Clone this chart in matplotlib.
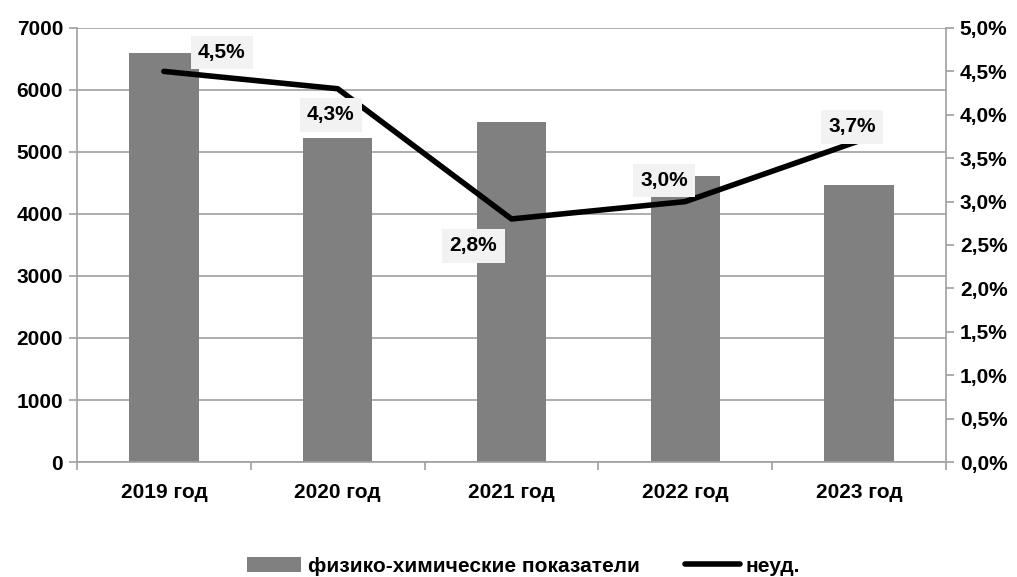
import numpy as np
import matplotlib.pyplot as plt
from matplotlib.ticker import FuncFormatter

plt.rcParams['font.family'] = ['Liberation Sans', 'DejaVu Sans']
plt.rcParams['font.weight'] = 'bold'

# data
years = ['2019 год', '2020 год', '2021 год', '2022 год', '2023 год']
counts = [6600, 5230, 5480, 4610, 4470]
fail_pct = [4.5, 4.3, 2.8, 3.0, 3.7]
pct_labels = ['4,5%', '4,3%', '2,8%', '3,0%', '3,7%']
label_offsets = [(58, 19), (-7, -26), (-38, -27), (-21, 21), (-7, 14)]

grid_col = '#a0a0a0'
fs = 15

fig = plt.figure(figsize=(10.17, 5.77), dpi=100)
ax = fig.add_axes([0.0757, 0.1993, 0.8545, 0.7522])
ax2 = ax.twinx()

x = np.arange(len(years))
bars = ax.bar(x, counts, width=0.4, color='#808080', zorder=2,
              label='физико-химические показатели')
ax.set_xlim(-0.5, len(years) - 0.5)
ax.set_ylim(0, 7000)
ax.set_yticks(np.arange(0, 7001, 1000))
ax.yaxis.grid(True, color=grid_col, linewidth=1.2, zorder=0)
ax.set_axisbelow(True)
ax.set_xticks(x)
ax.set_xticklabels(years)
ax.set_xticks(np.arange(-0.5, len(years)), minor=True)
ax.tick_params(axis='x', which='major', length=0, pad=15, labelsize=fs)
ax.tick_params(axis='x', which='minor', length=6, color=grid_col, width=1.2)
ax.tick_params(axis='y', length=6, color=grid_col, width=1.2, labelsize=fs, pad=4)

for s in ['top', 'right']:
    ax.spines[s].set_visible(False)
for s in ['left', 'bottom']:
    ax.spines[s].set_color(grid_col)
    ax.spines[s].set_linewidth(1.2)

line, = ax2.plot(x, fail_pct, color='black', linewidth=4, zorder=3,
                 solid_capstyle='round', solid_joinstyle='round', label='неуд.')
ax2.set_ylim(0, 5)
ax2.set_yticks(np.arange(0, 5.01, 0.5))
ax2.yaxis.set_major_formatter(FuncFormatter(lambda v, p: f'{v:.1f}%'.replace('.', ',')))
ax2.tick_params(axis='y', length=6, color=grid_col, width=1.2, labelsize=fs, pad=4)
for s in ['top', 'left', 'bottom']:
    ax2.spines[s].set_visible(False)
ax2.spines['right'].set_color(grid_col)
ax2.spines['right'].set_linewidth(1.2)

for xi, yi, lab, off in zip(x, fail_pct, pct_labels, label_offsets):
    ax2.annotate(lab, (xi, yi), xytext=off, textcoords='offset pixels',
                 ha='center', va='center', fontsize=fs, fontweight='bold',
                 bbox=dict(boxstyle='square,pad=0.35', fc='#f2f2f2', ec='none'),
                 zorder=4)

fig.legend([bars, line], ['физико-химические показатели', 'неуд.'],
           loc='lower center', bbox_to_anchor=(0.515, -0.03), ncol=2,
           frameon=False, fontsize=fs, handlelength=2.6, handletextpad=0.3,
           columnspacing=2.2)

fig.savefig('out.png', dpi=100)
